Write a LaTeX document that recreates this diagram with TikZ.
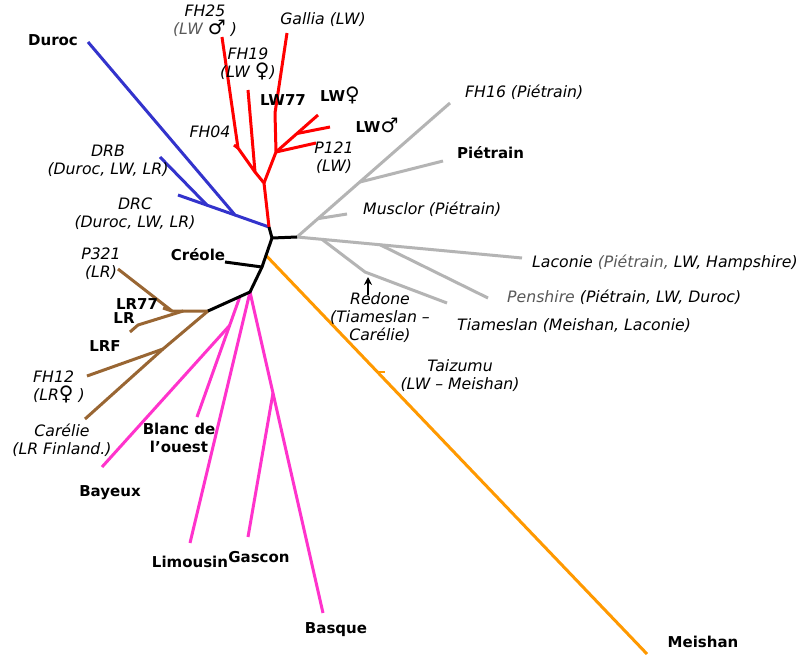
\documentclass[tikz,border=0pt]{standalone}
\usepackage{fontspec}
\setmainfont{DejaVu Sans}
\newfontfamily\symf{DejaVu Sans}
\usetikzlibrary{arrows.meta,calc}
\definecolor{cRed}{RGB}{255,0,0}
\definecolor{cBlue}{RGB}{51,51,204}
\definecolor{cGrey}{RGB}{180,180,180}
\definecolor{cBrown}{RGB}{153,102,51}
\definecolor{cPink}{RGB}{255,51,204}
\definecolor{cOrange}{RGB}{255,153,0}
\newcommand{\mymale}{{\symf\upshape\mdseries\fontsize{20}{18}\selectfont ♂}}
\newcommand{\myfemale}{{\symf\upshape\mdseries\fontsize{20}{18}\selectfont ♀}}
\begin{document}
\fontsize{15}{18}\selectfont
\begin{tikzpicture}[x=1pt,y=-1pt,
  br/.style={line width=3pt, line join=round},
  lab/.style={font=\fontsize{15.7}{18}\selectfont\itshape, inner sep=0pt, align=center},
  blab/.style={font=\bfseries, inner sep=0pt, align=center}]
\fill[white] (0,0) rectangle (804,654);
\path[use as bounding box] (0,0) rectangle (804,654);
% black backbone coordinates
\coordinate (rR) at (269,227);
\coordinate (k1) at (272,238);
\coordinate (gR) at (297,237);
\coordinate (kC) at (262,267);
\coordinate (creT) at (225,262);
\coordinate (kP) at (250,292);
\coordinate (bR) at (208,311);
\coordinate (oR) at ($(k1)!0.6!(kC)$);
\coordinate (oT) at (647,654);
\coordinate (taiz) at ($(oR)!0.293!(oT)$);
% red
\coordinate (R0) at (264,183);
\coordinate (B) at (255,172);
\coordinate (fh19T) at (248,90);
\coordinate (A) at (238,148);
\coordinate (fh25T) at (222,37);
\coordinate (fh04T) at (234,145);
\coordinate (C) at (276,152);
\coordinate (D) at (275,113);
\coordinate (galT) at (287,33);
\coordinate (lwfT) at (318,115);
\coordinate (E) at ($(C)!0.5!(lwfT)$);
\coordinate (lwmT) at (330,127);
\coordinate (p121T) at (316,143);
% blue
\coordinate (J1) at (235,215);
\coordinate (duT) at (88,42);
\coordinate (drcT) at (178,195);
\coordinate (J2) at ($(J1)!0.49!(drcT)$);
\coordinate (drbT) at (160,157);
% grey
\coordinate (fh16T) at (450,103);
\coordinate (G1) at ($(gR)!0.137!(fh16T)$);
\coordinate (musT) at (347,214);
\coordinate (G2) at ($(gR)!0.41!(fh16T)$);
\coordinate (pieT) at (443,161);
\coordinate (lacT) at (522,258);
\coordinate (G3) at ($(gR)!0.111!(lacT)$);
\coordinate (Rd) at (365,272);
\coordinate (tiaT) at (447,303);
\coordinate (G4) at ($(gR)!0.369!(lacT)$);
\coordinate (penT) at (488,298);
\coordinate (arrS) at (368,295);
\coordinate (arrE) at (368,277);
% brown
\coordinate (Bh) at (172,311);
\coordinate (p321T) at (118,269);
\coordinate (lr77T) at (163,308);
\coordinate (Bl) at ($(bR)!0.69!(Bh)$);
\coordinate (lrK) at (138,325);
\coordinate (lrT) at (130,332);
\coordinate (Bd) at (163,349);
\coordinate (carT) at (85,419);
\coordinate (fh12T) at (87,376);
% pink
\coordinate (pL) at ($(kP)!0.24!(bR)$);
\coordinate (blT) at (197,417);
\coordinate (Pb) at ($(pL)!0.24!(blT)$);
\coordinate (bayT) at (102,467);
\coordinate (limT) at (190,543);
\coordinate (basT) at (323,613);
\coordinate (Pg) at ($(kP)!0.315!(basT)$);
\coordinate (gasT) at (248,537);

% pink
\draw[br,cPink] (pL) -- (blT);
\draw[br,cPink] (Pb) -- (bayT);
\draw[br,cPink] (kP) -- (limT);
\draw[br,cPink] (kP) -- (basT);
\draw[br,cPink] (Pg) -- (gasT);
% brown
\draw[br,cBrown] (bR) -- (Bh) -- (p321T);
\draw[br,cBrown] (Bh) -- (lr77T);
\draw[br,cBrown] (Bl) -- (lrK) -- (lrT);
\draw[br,cBrown] (bR) -- (Bd) -- (carT);
\draw[br,cBrown] (Bd) -- (fh12T);
% grey
\draw[br,cGrey] (gR) -- (fh16T);
\draw[br,cGrey] (G1) -- (musT);
\draw[br,cGrey] (G2) -- (pieT);
\draw[br,cGrey] (gR) -- (lacT);
\draw[br,cGrey] (G3) -- (Rd) -- (tiaT);
\draw[br,cGrey] (G4) -- (penT);
% blue
\draw[br,cBlue] (rR) -- (J1) -- (duT);
\draw[br,cBlue] (J1) -- (drcT);
\draw[br,cBlue] (J2) -- (drbT);
% red
\draw[br,cRed] (rR) -- (R0) -- (B) -- (A) -- (fh25T);
\draw[br,cRed] (A) -- (fh04T);
\draw[br,cRed] (B) -- (fh19T);
\draw[br,cRed] (R0) -- (C) -- (D) -- (galT);
\draw[br,cRed] (C) -- (lwfT);
\draw[br,cRed] (E) -- (lwmT);
\draw[br,cRed] (C) -- (p121T);
% orange
\draw[br,cOrange] (oR) -- (oT);
\draw[cOrange,line width=2pt] (taiz) -- ++(7,0);
% black
\draw[br,black] (rR) -- (k1) -- (gR);
\draw[br,black] (k1) -- (kC) -- (kP) -- (bR);
\draw[br,black] (kC) -- (creT);
% Redone arrow
\draw[line width=2pt,-{Stealth[length=8pt,width=8pt]}] (arrS) -- (arrE);

% labels
\node[blab] (tDuroc) at (53,40) {Duroc};
\node[lab] (tFH25) at (205,21) {FH25\\{\color{black!65}(LW} \mymale\ )};
\node[lab] (tFH19) at (248,64) {FH19\\(LW \myfemale)};
\node[lab] (tGal) at (323,20) {Gallia (LW)};
\node[blab] (tLW77) at (283,100) {LW77};
\node[lab] (tFH04) at (210,132) {FH04};
\node[blab] (tLWf) at (340,95) {LW\myfemale};
\node[blab] (tLWm) at (377,125) {LW\mymale};
\node[lab] (tP121) at (334,158) {P121\\(LW)};
\node[lab,anchor=west] (tFH16) at (465,92) {FH16 (Piétrain)};
\node[blab,anchor=west] (tPie) at (457,153) {Piétrain};
\node[lab,anchor=west] (tMus) at (363,209) {Musclor (Piétrain)};
\node[lab,anchor=west] (tLac) at (532,263) {Laconie {\color{black!65}(Piétrain,} LW, Hampshire)};
\node[lab,anchor=west] (tPen) at (507,297) {{\color{black!65}Penshire} (Piétrain, LW, Duroc)};
\node[lab,anchor=west] (tTia) at (457,326) {Tiameslan (Meishan, Laconie)};
\node[lab] (tRed) at (380,318) {Redone\\(Tiameslan –\\Carélie)};
\node[lab] (tTai) at (460,376) {Taizumu\\(LW – Meishan)};
\node[blab] (tMei) at (703,642) {Meishan};
\node[lab] (tDRB) at (108,161) {DRB\\(Duroc, LW, LR)};
\node[lab] (tDRC) at (135,214) {DRC\\(Duroc, LW, LR)};
\node[blab] (tCre) at (198,255) {Créole};
\node[lab] (tP321) at (101,264) {P321\\(LR)};
\node[blab] (tLR77) at (137,304) {LR77};
\node[blab] (tLR) at (124,318) {LR};
\node[blab] (tLRF) at (105,346) {LRF};
\node[lab,anchor=west,align=left] (tFH12) at (33,387) {FH12\\(LR\myfemale\ )};
\node[lab] (tCar) at (62,440) {Carélie\\(LR Finland.)};
\node[blab] (tBay) at (110,493) {Bayeux};
\node[blab] (tBla) at (179,438) {Blanc de\\l’ouest};
\node[blab] (tLim) at (190,562) {Limousin};
\node[blab] (tGas) at (259,557) {Gascon};
\node[blab] (tBas) at (336,630) {Basque};
\end{tikzpicture}
\end{document}
